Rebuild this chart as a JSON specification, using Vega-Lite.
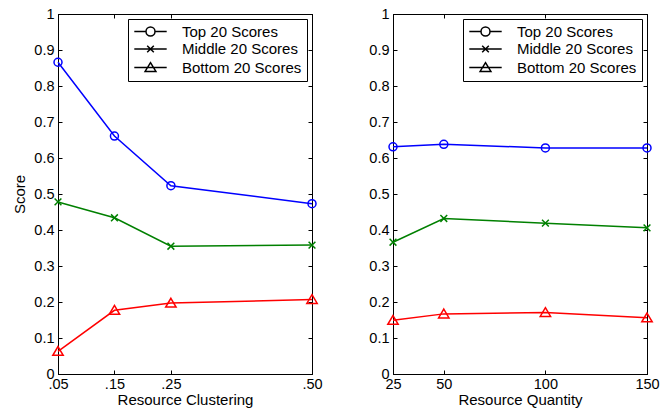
{
  "$schema": "https://vega.github.io/schema/vega-lite/v6.json",
  "padding": {"left": 12, "top": 5, "right": 5, "bottom": 2},
  "background": "white",
  "config": {
    "font": "Liberation Sans",
    "view": {"stroke": "black", "strokeWidth": 1},
    "axis": {
      "grid": false,
      "domainColor": "black",
      "tickColor": "black",
      "labelColor": "black",
      "titleColor": "black",
      "labelFont": "Liberation Sans",
      "titleFont": "Liberation Sans",
      "labelFontSize": 14.5,
      "titleFontSize": 15,
      "titleFontWeight": "normal",
      "tickSize": -4,
      "labelFlush": false,
      "labelOverlap": false
    },
    "legend": {
      "labelFont": "Liberation Sans",
      "labelFontSize": 15,
      "labelColor": "black",
      "strokeColor": "black",
      "fillColor": "white",
      "strokeWidth": 1
    }
  },
  "spacing": 81,
  "bounds": "flush",
  "resolve": {
    "scale": {"color": "independent", "shape": "independent", "stroke": "independent"},
    "legend": {"color": "independent", "shape": "independent"}
  },
  "hconcat": [
    {
      "width": 254,
      "height": 360,
      "data": {
        "values": [
          {"x": 0.05, "score": 0.866, "series": "Top 20 Scores"},
          {"x": 0.15, "score": 0.661, "series": "Top 20 Scores"},
          {"x": 0.25, "score": 0.523, "series": "Top 20 Scores"},
          {"x": 0.5, "score": 0.473, "series": "Top 20 Scores"},
          {"x": 0.05, "score": 0.478, "series": "Middle 20 Scores"},
          {"x": 0.15, "score": 0.434, "series": "Middle 20 Scores"},
          {"x": 0.25, "score": 0.355, "series": "Middle 20 Scores"},
          {"x": 0.5, "score": 0.358, "series": "Middle 20 Scores"},
          {"x": 0.05, "score": 0.063, "series": "Bottom 20 Scores"},
          {"x": 0.15, "score": 0.177, "series": "Bottom 20 Scores"},
          {"x": 0.25, "score": 0.197, "series": "Bottom 20 Scores"},
          {"x": 0.5, "score": 0.207, "series": "Bottom 20 Scores"}
        ]
      },
      "resolve": {"scale": {"shape": "independent"}},
      "layer": [
        {
          "mark": {"type": "line", "strokeWidth": 1.5},
          "encoding": {
            "x": {"field": "x", "type": "quantitative", "scale": {"domain": [0.05, 0.5], "nice": false, "zero": false},
                  "axis": {"orient": "bottom", "values": [0.05, 0.15, 0.25, 0.5], "labelExpr": "replace(format(datum.value, '.2f'), '0.', '.')", "labelPadding": 7, "title": "Resource Clustering", "titlePadding": 2}},
            "y": {"field": "score", "type": "quantitative", "scale": {"domain": [0, 1], "nice": false},
                  "axis": {"orient": "left", "values": [0, 0.1, 0.2, 0.3, 0.4, 0.5, 0.6, 0.7, 0.8, 0.9, 1], "format": "~g", "labelPadding": 8, "title": "Score", "titlePadding": 6}},
            "stroke": {"field": "series", "type": "nominal", "scale": {"domain": ["Top 20 Scores", "Middle 20 Scores", "Bottom 20 Scores"], "range": ["#0000ff", "#008000", "#ff0000"]}, "legend": null}
          }
        },
        {
          "mark": {"type": "point", "filled": false, "strokeWidth": 1.5, "size": 64, "opacity": 1},
          "encoding": {
            "x": {"field": "x", "type": "quantitative", "scale": {"domain": [0.05, 0.5], "nice": false, "zero": false},
                  "axis": {"orient": "top", "values": [0.05, 0.15, 0.25, 0.5], "labels": false, "title": null}},
            "y": {"field": "score", "type": "quantitative", "scale": {"domain": [0, 1], "nice": false},
                  "axis": {"orient": "right", "values": [0, 0.1, 0.2, 0.3, 0.4, 0.5, 0.6, 0.7, 0.8, 0.9, 1], "labels": false, "title": null}},
            "stroke": {"field": "series", "type": "nominal", "scale": {"domain": ["Top 20 Scores", "Middle 20 Scores", "Bottom 20 Scores"], "range": ["#0000ff", "#008000", "#ff0000"]}, "legend": null},
            "shape": {
              "field": "series",
              "type": "nominal",
              "scale": {"domain": ["Top 20 Scores", "Middle 20 Scores", "Bottom 20 Scores"], "range": ["M-1,0A1,1 0 1,0 1,0A1,1 0 1,0 -1,0", "M-0.85,-0.85L0.85,0.85M-0.85,0.85L0.85,-0.85", "M0,-1.2L1.3,1L-1.3,1Z"]},
              "legend": null
            }
          }
        },
        {
          "mark": {"type": "point", "filled": false, "strokeWidth": 1.5, "opacity": 0},
          "encoding": {
            "x": {"field": "x", "type": "quantitative", "scale": {"domain": [0.05, 0.5], "nice": false, "zero": false}, "axis": null},
            "y": {"field": "score", "type": "quantitative", "scale": {"domain": [0, 1], "nice": false}, "axis": null},
            "color": {
              "field": "series", "type": "nominal",
              "scale": {"domain": ["Top 20 Scores", "Middle 20 Scores", "Bottom 20 Scores"], "range": ["#0000ff", "#008000", "#ff0000"]},
              "legend": {"orient": "top-right", "offset": 5, "title": null, "strokeColor": "black", "fillColor": "white", "padding": 5, "cornerRadius": 0, "symbolSize": 144, "symbolOffset": 10, "labelOffset": 24, "rowPadding": 1.5, "symbolStrokeWidth": 1.5, "symbolOpacity": 1, "symbolStrokeColor": "black"}
            },
            "shape": {
              "field": "series", "type": "nominal",
              "scale": {"domain": ["Top 20 Scores", "Middle 20 Scores", "Bottom 20 Scores"], "range": ["M-2.7,0H-0.75M0.75,0H2.7M-0.75,0A0.75,0.75 0 1,0 0.75,0A0.75,0.75 0 1,0 -0.75,0", "M-2.7,0H2.7M-0.55,-0.55L0.55,0.55M-0.55,0.55L0.55,-0.55", "M-2.7,0H2.7M0,-0.8L0.9,0.65L-0.9,0.65Z"]},
              "legend": {"orient": "top-right", "offset": 5, "title": null, "strokeColor": "black", "fillColor": "white", "padding": 5, "cornerRadius": 0, "symbolSize": 144, "symbolOffset": 10, "labelOffset": 24, "rowPadding": 1.5, "symbolStrokeWidth": 1.5, "symbolOpacity": 1, "symbolStrokeColor": "black"}
            }
          }
        }
      ]
    },
    {
      "width": 254,
      "height": 360,
      "data": {
        "values": [
          {"x": 25, "score": 0.631, "series": "Top 20 Scores"},
          {"x": 50, "score": 0.638, "series": "Top 20 Scores"},
          {"x": 100, "score": 0.628, "series": "Top 20 Scores"},
          {"x": 150, "score": 0.628, "series": "Top 20 Scores"},
          {"x": 25, "score": 0.366, "series": "Middle 20 Scores"},
          {"x": 50, "score": 0.432, "series": "Middle 20 Scores"},
          {"x": 100, "score": 0.419, "series": "Middle 20 Scores"},
          {"x": 150, "score": 0.406, "series": "Middle 20 Scores"},
          {"x": 25, "score": 0.149, "series": "Bottom 20 Scores"},
          {"x": 50, "score": 0.167, "series": "Bottom 20 Scores"},
          {"x": 100, "score": 0.171, "series": "Bottom 20 Scores"},
          {"x": 150, "score": 0.156, "series": "Bottom 20 Scores"}
        ]
      },
      "resolve": {"scale": {"shape": "independent"}},
      "layer": [
        {
          "mark": {"type": "line", "strokeWidth": 1.5},
          "encoding": {
            "x": {"field": "x", "type": "quantitative", "scale": {"domain": [25, 150], "nice": false, "zero": false},
                  "axis": {"orient": "bottom", "values": [25, 50, 100, 150], "format": "d", "labelPadding": 7, "title": "Resource Quantity", "titlePadding": 2}},
            "y": {"field": "score", "type": "quantitative", "scale": {"domain": [0, 1], "nice": false},
                  "axis": {"orient": "left", "values": [0, 0.1, 0.2, 0.3, 0.4, 0.5, 0.6, 0.7, 0.8, 0.9, 1], "format": "~g", "labelPadding": 8, "title": null}},
            "stroke": {"field": "series", "type": "nominal", "scale": {"domain": ["Top 20 Scores", "Middle 20 Scores", "Bottom 20 Scores"], "range": ["#0000ff", "#008000", "#ff0000"]}, "legend": null}
          }
        },
        {
          "mark": {"type": "point", "filled": false, "strokeWidth": 1.5, "size": 64, "opacity": 1},
          "encoding": {
            "x": {"field": "x", "type": "quantitative", "scale": {"domain": [25, 150], "nice": false, "zero": false},
                  "axis": {"orient": "top", "values": [25, 50, 100, 150], "labels": false, "title": null}},
            "y": {"field": "score", "type": "quantitative", "scale": {"domain": [0, 1], "nice": false},
                  "axis": {"orient": "right", "values": [0, 0.1, 0.2, 0.3, 0.4, 0.5, 0.6, 0.7, 0.8, 0.9, 1], "labels": false, "title": null}},
            "stroke": {"field": "series", "type": "nominal", "scale": {"domain": ["Top 20 Scores", "Middle 20 Scores", "Bottom 20 Scores"], "range": ["#0000ff", "#008000", "#ff0000"]}, "legend": null},
            "shape": {
              "field": "series",
              "type": "nominal",
              "scale": {"domain": ["Top 20 Scores", "Middle 20 Scores", "Bottom 20 Scores"], "range": ["M-1,0A1,1 0 1,0 1,0A1,1 0 1,0 -1,0", "M-0.85,-0.85L0.85,0.85M-0.85,0.85L0.85,-0.85", "M0,-1.2L1.3,1L-1.3,1Z"]},
              "legend": null
            }
          }
        },
        {
          "mark": {"type": "point", "filled": false, "strokeWidth": 1.5, "opacity": 0},
          "encoding": {
            "x": {"field": "x", "type": "quantitative", "scale": {"domain": [25, 150], "nice": false, "zero": false}, "axis": null},
            "y": {"field": "score", "type": "quantitative", "scale": {"domain": [0, 1], "nice": false}, "axis": null},
            "color": {
              "field": "series", "type": "nominal",
              "scale": {"domain": ["Top 20 Scores", "Middle 20 Scores", "Bottom 20 Scores"], "range": ["#0000ff", "#008000", "#ff0000"]},
              "legend": {"orient": "top-right", "offset": 5, "title": null, "strokeColor": "black", "fillColor": "white", "padding": 5, "cornerRadius": 0, "symbolSize": 144, "symbolOffset": 10, "labelOffset": 24, "rowPadding": 1.5, "symbolStrokeWidth": 1.5, "symbolOpacity": 1, "symbolStrokeColor": "black"}
            },
            "shape": {
              "field": "series", "type": "nominal",
              "scale": {"domain": ["Top 20 Scores", "Middle 20 Scores", "Bottom 20 Scores"], "range": ["M-2.7,0H-0.75M0.75,0H2.7M-0.75,0A0.75,0.75 0 1,0 0.75,0A0.75,0.75 0 1,0 -0.75,0", "M-2.7,0H2.7M-0.55,-0.55L0.55,0.55M-0.55,0.55L0.55,-0.55", "M-2.7,0H2.7M0,-0.8L0.9,0.65L-0.9,0.65Z"]},
              "legend": {"orient": "top-right", "offset": 5, "title": null, "strokeColor": "black", "fillColor": "white", "padding": 5, "cornerRadius": 0, "symbolSize": 144, "symbolOffset": 10, "labelOffset": 24, "rowPadding": 1.5, "symbolStrokeWidth": 1.5, "symbolOpacity": 1, "symbolStrokeColor": "black"}
            }
          }
        }
      ]
    }
  ]
}
